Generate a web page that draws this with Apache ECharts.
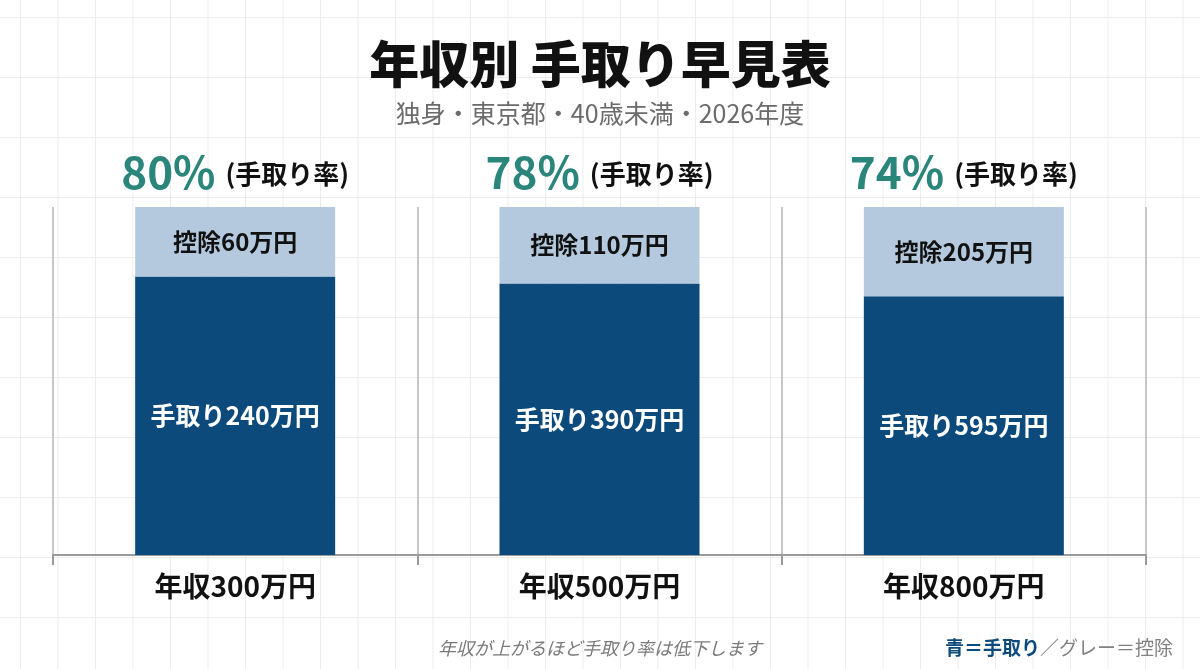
<!DOCTYPE html>
<html>
<head>
<meta charset="utf-8">
<script src="https://cdn.jsdelivr.net/npm/echarts@6/dist/echarts.min.js"></script>
<style>
  html, body { margin: 0; padding: 0; }
  body {
    width: 1200px; height: 669px; overflow: hidden;
    background-color: #ffffff;
    background-image:
      linear-gradient(to right, #ececec 1px, transparent 1px),
      linear-gradient(to bottom, #ececec 1px, transparent 1px);
    background-size: 37.5px 60px, 37.5px 60px;
    background-position: 20px 17px, 20px 17px;
  }
  #chart { width: 1200px; height: 669px; }
</style>
</head>
<body>
<div id="chart"></div>
<script>
// ---- data ----
const categories = ['年収300万円', '年収500万円', '年収800万円'];
const takeHome = [240, 390, 595];      // 手取り (万円)
const deduction = [60, 110, 205];      // 控除 (万円)
const takeHomeRate = [80, 78, 74];     // 手取り率 (%)

const FONT = '"Noto Sans CJK JP", "Noto Sans", sans-serif';
const totals = takeHome.map((v, i) => v + deduction[i]);
const takeHomePct = takeHome.map((v, i) => v / totals[i] * 100);
const deductionPct = deduction.map((v, i) => v / totals[i] * 100);
const topPoints = categories.map((c, i) => [i, takeHomePct[i] + deductionPct[i]]);

const chart = echarts.init(document.getElementById('chart'), null, { renderer: 'canvas' });
chart.setOption({
  backgroundColor: 'transparent',
  textStyle: { fontFamily: FONT },
  title: [
    {
      text: '年収別 手取り早見表',
      left: 'center', top: 34,
      textStyle: { fontFamily: FONT, fontSize: 50, fontWeight: 900, color: '#111111' }
    },
    {
      text: '独身・東京都・40歳未満・2026年度',
      left: 'center', top: 96,
      textStyle: { fontFamily: FONT, fontSize: 25, fontWeight: 'normal', color: '#6b6b6b' }
    },
    {
      text: '年収が上がるほど手取り率は低下します',
      left: 'center', top: 634,
      textStyle: { fontFamily: FONT, fontSize: 18, fontStyle: 'italic', fontWeight: 'normal', color: '#7a7a7a' }
    },
    {
      text: '{b|青＝手取り}{g|／グレー＝控除}',
      right: 22, top: 633,
      textStyle: {
        fontFamily: FONT,
        rich: {
          b: { fontFamily: FONT, fontSize: 19, fontWeight: 'bold', color: '#0c4a7b' },
          g: { fontFamily: FONT, fontSize: 19, fontWeight: 'normal', color: '#808080' }
        }
      }
    }
  ],
  grid: { left: 53, right: 54, top: 207, bottom: 114, containLabel: false },
  xAxis: {
    type: 'category',
    data: categories,
    boundaryGap: true,
    axisLine: { show: true, lineStyle: { color: '#9a9a9a', width: 2 } },
    axisTick: { show: true, length: 10, lineStyle: { color: '#9a9a9a', width: 2 } },
    splitLine: { show: true, lineStyle: { color: '#c8c8c8', width: 2 } },
    axisLabel: {
      margin: 17,
      fontFamily: FONT, fontSize: 28, fontWeight: 'bold', color: '#111111'
    }
  },
  yAxis: {
    type: 'value', min: 0, max: 100, show: false,
    splitLine: { show: false }
  },
  series: [
    {
      name: '手取り',
      type: 'bar',
      stack: 'total',
      barWidth: 200,
      data: takeHomePct,
      itemStyle: { color: '#0c4a7b' },
      label: {
        show: true, position: 'inside',
        fontFamily: FONT, fontSize: 25, fontWeight: 'bold', color: '#ffffff',
        formatter: p => '手取り' + takeHome[p.dataIndex] + '万円'
      },
      z: 3
    },
    {
      name: '控除',
      type: 'bar',
      stack: 'total',
      barWidth: 200,
      data: deductionPct,
      itemStyle: { color: '#b5c9de' },
      label: {
        show: true, position: 'inside',
        fontFamily: FONT, fontSize: 24, fontWeight: 'bold', color: '#111111',
        formatter: p => '控除' + deduction[p.dataIndex] + '万円'
      },
      z: 3
    },
    {
      name: '手取り率',
      type: 'scatter',
      data: topPoints,
      symbol: 'circle',
      symbolSize: 2,
      itemStyle: { color: 'rgba(0,0,0,0)', opacity: 1 },
      silent: true,
      label: {
        show: true, position: 'top', distance: 12, opacity: 1,
        formatter: p => '{p|' + takeHomeRate[p.dataIndex] + '%}{t|(手取り率)}',
        rich: {
          p: { fontFamily: FONT, fontSize: 44, fontWeight: 'bold', color: '#2a857a', padding: [0, 10, 0, 0] },
          t: { fontFamily: FONT, fontSize: 26, fontWeight: 'bold', color: '#111111', padding: [4, 0, 0, 0] }
        }
      },
      z: 5
    }
  ],
  animation: false
});
</script>
</body>
</html>
